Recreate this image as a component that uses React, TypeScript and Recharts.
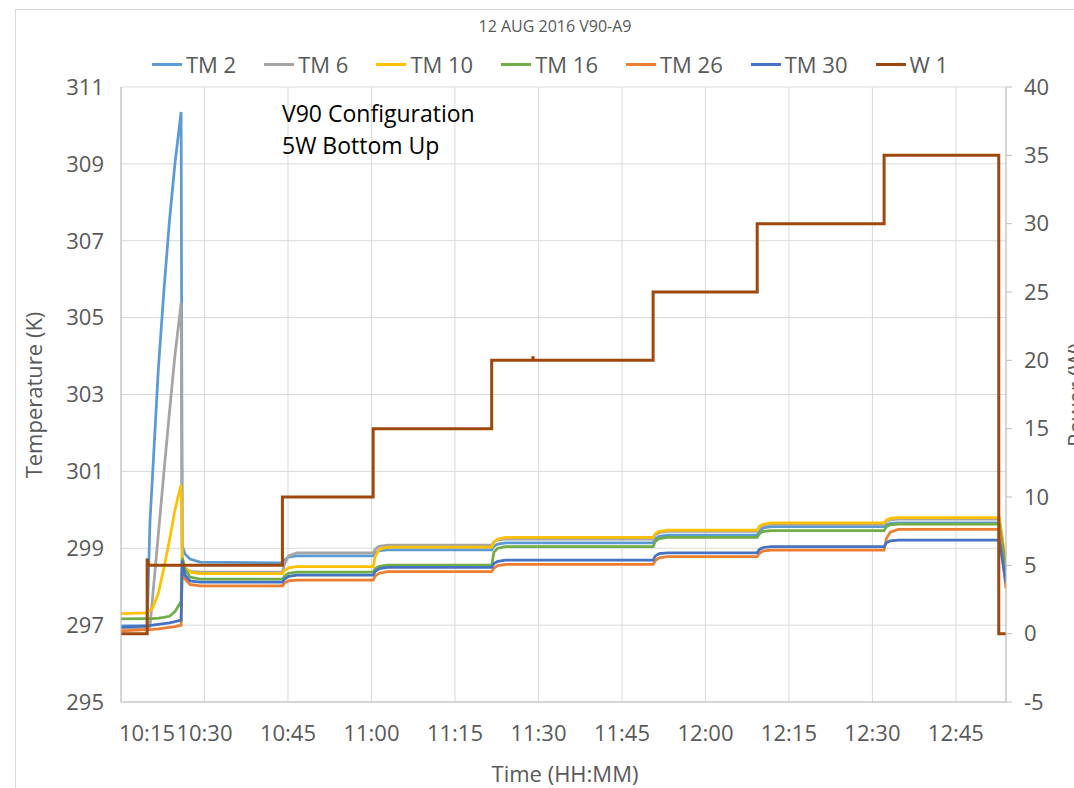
import { LineChart, Line, XAxis, YAxis, CartesianGrid, Legend } from "recharts";

const FONT = "'Open Sans', sans-serif";
const GREY_TEXT = "#595959";

// minutes since midnight (10:15 = 615)
const X_TICKS = [615, 630, 645, 660, 675, 690, 705, 720, 735, 750, 765];
const T_TICKS = [295, 297, 299, 301, 303, 305, 307, 309, 311];
const P_TICKS = [-5, 0, 5, 10, 15, 20, 25, 30, 35, 40];

const TIMES = [615, 619.7, 620.2, 620.7, 621.7, 622.7, 623.7, 624.7, 625.8, 626.0, 626.5, 627.4, 629.2, 644.0, 644.4, 645.1, 646.6, 660.3, 660.7, 661.4, 662.9, 681.6, 682.0, 682.7, 684.1, 710.6, 711.0, 711.7, 713.2, 729.3, 729.7, 730.4, 731.9, 752.1, 752.5, 753.2, 754.7, 772.8, 774.0];

const TM2 = [296.98, 296.98, 299.68, 300.98, 303.64, 305.69, 307.51, 309.02, 310.35, 299.06, 298.85, 298.72, 298.64, 298.62, 298.7, 298.77, 298.8, 298.8, 298.88, 298.94, 298.96, 298.96, 299.05, 299.11, 299.14, 299.14, 299.24, 299.31, 299.34, 299.34, 299.45, 299.53, 299.56, 299.56, 299.61, 299.65, 299.66, 299.66, 298.4];
const TM6 = [296.92, 296.92, 296.95, 297.76, 299.35, 300.96, 302.53, 304.03, 305.38, 298.6, 298.46, 298.4, 298.38, 298.38, 298.6, 298.8, 298.88, 298.88, 298.98, 299.05, 299.08, 299.08, 299.16, 299.22, 299.24, 299.24, 299.35, 299.41, 299.44, 299.44, 299.54, 299.6, 299.62, 299.62, 299.7, 299.74, 299.76, 299.76, 298.5];
const TM10 = [297.3, 297.32, 297.38, 297.45, 297.82, 298.48, 299.21, 300.0, 300.65, 298.75, 298.5, 298.38, 298.34, 298.34, 298.42, 298.49, 298.52, 298.52, 298.8, 298.97, 299.03, 299.03, 299.16, 299.24, 299.28, 299.28, 299.38, 299.44, 299.47, 299.47, 299.57, 299.63, 299.66, 299.66, 299.73, 299.78, 299.8, 299.8, 298.6];
const TM16 = [297.16, 297.17, 297.17, 297.17, 297.18, 297.2, 297.23, 297.35, 297.62, 298.75, 298.45, 298.25, 298.2, 298.2, 298.28, 298.35, 298.38, 298.38, 298.47, 298.53, 298.56, 298.56, 298.9, 299.0, 299.04, 299.04, 299.18, 299.25, 299.28, 299.28, 299.38, 299.44, 299.46, 299.46, 299.56, 299.61, 299.63, 299.63, 298.5];
const TM26 = [296.85, 296.88, 296.88, 296.89, 296.9, 296.92, 296.94, 296.96, 297.0, 298.5, 298.2, 298.06, 298.02, 298.02, 298.1, 298.15, 298.17, 298.17, 298.28, 298.35, 298.39, 298.39, 298.48, 298.55, 298.58, 298.58, 298.68, 298.75, 298.78, 298.78, 298.87, 298.93, 298.95, 298.95, 299.25, 299.42, 299.49, 299.49, 297.95];
const TM30 = [296.95, 296.98, 296.99, 297.0, 297.02, 297.04, 297.06, 297.09, 297.13, 298.68, 298.3, 298.15, 298.12, 298.12, 298.2, 298.27, 298.3, 298.3, 298.4, 298.47, 298.5, 298.5, 298.6, 298.66, 298.69, 298.69, 298.8, 298.86, 298.88, 298.88, 298.97, 299.02, 299.04, 299.04, 299.14, 299.19, 299.21, 299.21, 298.1];

const POWER_TIMES = [615, 619.7, 619.7, 620.0, 644.0, 644.0, 660.3, 660.3, 681.6, 681.6, 689.0, 689.0, 689.1, 710.6, 710.6, 729.3, 729.3, 752.1, 752.1, 772.7, 772.7, 774.0];
const W1 = [0, 0, 5.5, 5, 5, 10, 10, 15, 15, 20, 20, 20.3, 20, 20, 25, 25, 30, 30, 35, 35, 0, 0];

const tempData = TIMES.map((t, i) => ({
  t,
  tm2: TM2[i],
  tm6: TM6[i],
  tm10: TM10[i],
  tm16: TM16[i],
  tm26: TM26[i],
  tm30: TM30[i],
}));
const powerData = POWER_TIMES.map((t, i) => ({ t, w1: W1[i] }));

const TEMP_SERIES = [
  { key: "tm2", name: "TM 2", color: "#5B9BD5" },
  { key: "tm6", name: "TM 6", color: "#A5A5A5" },
  { key: "tm10", name: "TM 10", color: "#FFC000" },
  { key: "tm16", name: "TM 16", color: "#70AD47" },
  { key: "tm26", name: "TM 26", color: "#ED7D31" },
  { key: "tm30", name: "TM 30", color: "#4472C4" },
];
const POWER_SERIES = { key: "w1", name: "W 1", color: "#9E480E" };
const LEGEND_ITEMS = [...TEMP_SERIES, POWER_SERIES];

const fmtTime = (v: number) => {
  const h = Math.floor(v / 60);
  const m = Math.round(v - h * 60);
  return `${h}:${String(m).padStart(2, "0")}`;
};

const TimeTick = ({ x, y, payload }: any) => {
  // excel nudges the first label inside the plot
  const shift = payload.value === 615 ? 26 : 0;
  return (
    <text x={x + shift} y={y} dy={31} textAnchor="middle" fill={GREY_TEXT} fontSize={22} fontFamily={FONT}>
      {fmtTime(payload.value)}
    </text>
  );
};

const AxisTitle = ({ cx, cy, rot, text }: any) => (
  <text
    x={cx}
    y={cy}
    transform={`rotate(${rot}, ${cx}, ${cy})`}
    textAnchor="middle"
    dominantBaseline="central"
    fill={GREY_TEXT}
    fontSize={22}
    fontFamily={FONT}
  >
    {text}
  </text>
);

const LegendRow = () => (
  <div style={{ display: "flex", alignItems: "center", fontFamily: FONT, fontSize: 22, color: GREY_TEXT, lineHeight: "30px" }}>
    {LEGEND_ITEMS.map((p) => (
      <div key={p.key} style={{ display: "flex", alignItems: "center", marginRight: 28 }}>
        <span style={{ display: "inline-block", width: 30, height: 3, background: p.color, marginRight: 4 }} />
        <span>{p.name}</span>
      </div>
    ))}
  </div>
);

const tickStyle = { fill: GREY_TEXT, fontSize: 22, fontFamily: FONT };

export default function App() {
  return (
    <div style={{ position: "relative", width: 1074, height: 788, overflow: "hidden", background: "#fff" }}>
      <style>{"body{margin:0}"}</style>
      <div
        style={{
          position: "absolute",
          left: 15,
          top: 9,
          width: 2000,
          height: 2000,
          border: "1px solid #d9d9d9",
          pointerEvents: "none",
        }}
      />
      <div
        style={{
          position: "absolute",
          top: 14,
          left: 0,
          width: 1110,
          textAlign: "center",
          fontFamily: FONT,
          fontSize: 16,
          lineHeight: "24px",
          color: GREY_TEXT,
        }}
      >
        12 AUG 2016 V90-A9
      </div>
      <LineChart width={1074} height={788} margin={{ top: 87, right: 0, bottom: 0, left: 0 }}>
        <CartesianGrid yAxisId="left" stroke="#d9d9d9" strokeWidth={1} />
        <XAxis
          type="number"
          dataKey="t"
          domain={[615, 774]}
          ticks={X_TICKS}
          interval={0}
          allowDataOverflow
          height={86}
          axisLine={{ stroke: "#bfbfbf" }}
          tickLine={false}
          tick={<TimeTick />}
          label={<AxisTitle cx={565} cy={773} rot={0} text="Time (HH:MM)" />}
        />
        <YAxis
          yAxisId="left"
          domain={[295, 311]}
          ticks={T_TICKS}
          interval={0}
          allowDataOverflow
          width={121}
          axisLine={{ stroke: "#bfbfbf" }}
          tickLine={false}
          tickMargin={11}
          tick={tickStyle}
          label={<AxisTitle cx={33} cy={395} rot={-90} text="Temperature (K)" />}
        />
        <YAxis
          yAxisId="right"
          orientation="right"
          domain={[-5, 40]}
          ticks={P_TICKS}
          interval={0}
          allowDataOverflow
          width={68}
          axisLine={{ stroke: "#bfbfbf" }}
          tickLine={{ stroke: "#bfbfbf" }}
          tickSize={6}
          tickMargin={12}
          tick={tickStyle}
          label={<AxisTitle cx={1075} cy={395} rot={-90} text="Power (W)" />}
        />
        <Legend
          layout="horizontal"
          verticalAlign="middle"
          align="center"
          wrapperStyle={{ top: 49, left: 152, width: 900 }}
          content={<LegendRow />}
        />
        {TEMP_SERIES.map((s) => (
          <Line
            key={s.key}
            yAxisId="left"
            data={tempData}
            dataKey={s.key}
            name={s.name}
            type="linear"
            stroke={s.color}
            strokeWidth={2.75}
            dot={false}
            activeDot={false}
            isAnimationActive={false}
          />
        ))}
        <Line
          yAxisId="right"
          data={powerData}
          dataKey={POWER_SERIES.key}
          name={POWER_SERIES.name}
          type="linear"
          stroke={POWER_SERIES.color}
          strokeWidth={3}
          dot={false}
          activeDot={false}
          isAnimationActive={false}
        />
      </LineChart>
      <div
        style={{
          position: "absolute",
          left: 282,
          top: 97,
          fontFamily: FONT,
          fontSize: 23,
          lineHeight: "32px",
          color: "#000",
        }}
      >
        <div>V90 Configuration</div>
        <div>5W Bottom Up</div>
      </div>
    </div>
  );
}
